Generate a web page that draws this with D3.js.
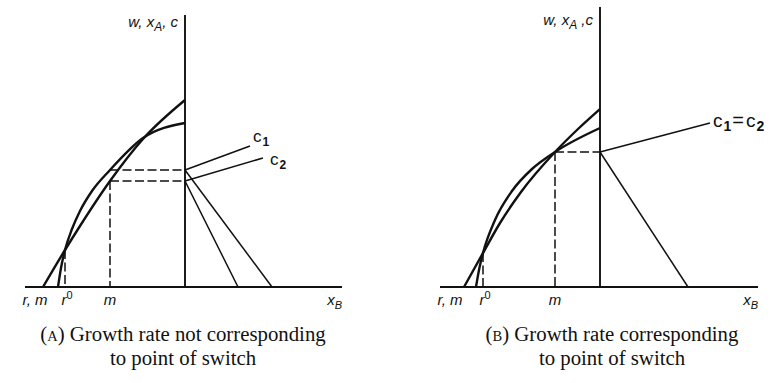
<!DOCTYPE html>
<html>
<head>
<meta charset="utf-8">
<script src="https://cdn.jsdelivr.net/npm/d3@7"></script>
<style>
  body { margin: 0; background: #fff; }
  svg text { fill: #111; }
</style>
</head>
<body>
<svg id="fig" width="780" height="383"></svg>
<script>
// ---- Panel A: growth rate not at the switch point ----
// wage–profit frontiers, points as [r, w]
const frontierA1 = [[1.42, 0], [1.20, 0.37], [1.05, 0.61], [0.75, 1.06], [0.42, 1.48], [0, 1.87]];
const frontierA2 = [[1.27, 0], [1.24, 0.19], [1.20, 0.37], [1.13, 0.58], [1.05, 0.76], [0.93, 0.96],
                    [0.75, 1.17], [0.42, 1.49], [0, 1.64]];
const growthA = 0.75;                 // m
const switchA = [1.20, 0.37];         // r0 and the frontier value there
const consumptionA = [1.17, 1.06];    // c1, c2 at r = m
const xBInterceptA = [0.87, 0.53];    // consumption lines meet the xB axis
const extentA = [1.60, 1.57, 2.72];   // r reach, xB reach, vertical reach

// ---- Panel B: growth rate at the switch point ----
const frontierB1 = [[1.36, 0], [1.17, 0.34], [1.00, 0.64], [0.79, 0.95], [0.45, 1.35], [0.22, 1.58], [0, 1.78]];
const frontierB2 = [[1.24, 0], [1.21, 0.17], [1.17, 0.34], [1.05, 0.67], [0.88, 0.96], [0.68, 1.18],
                    [0.45, 1.35], [0, 1.59]];
const growthB = 0.45;
const switchB = [1.17, 0.34];
const consumptionB = [1.35];
const xBInterceptB = [0.88];
const extentB = [1.60, 1.58, 2.80];

// ---- text ----
const captionsA = ["Growth rate not corresponding", "to point of switch"];
const captionsB = ["Growth rate corresponding", "to point of switch"];

const svg = d3.select("#fig");
const UNIT = 100;        // pixels per unit on both axes
const BASE = 287;        // baseline of both panels
const SANS = "Liberation Sans, Arial, sans-serif";

function drawPanel(cfg) {
  const g = svg.append("g");
  const ax = cfg.axisX;
  const r = d3.scaleLinear().domain([0, 1]).range([ax, ax - UNIT]);
  const xb = d3.scaleLinear().domain([0, 1]).range([ax, ax + UNIT]);
  const y = d3.scaleLinear().domain([0, 1]).range([BASE, BASE - UNIT]);
  const [rMax, xbMax, wMax] = cfg.extent;

  // axes
  g.append("line").attr("x1", r(rMax)).attr("x2", xb(xbMax))
    .attr("y1", y(0)).attr("y2", y(0))
    .attr("stroke", "#111").attr("stroke-width", 1.8);
  g.append("line").attr("x1", ax).attr("x2", ax)
    .attr("y1", y(0)).attr("y2", y(wMax))
    .attr("stroke", "#111").attr("stroke-width", 1.9);

  const dashed = (x1, y1, x2, y2) => g.append("line")
    .attr("x1", x1).attr("y1", y1).attr("x2", x2).attr("y2", y2)
    .attr("stroke", "#111").attr("stroke-width", 1.5)
    .attr("stroke-dasharray", "9,3.5");

  // dashed guides at r0 and at m
  dashed(r(cfg.switchPt[0]), y(cfg.switchPt[1]), r(cfg.switchPt[0]), y(0));
  dashed(r(cfg.growth), y(d3.min(cfg.consumption)), r(cfg.growth), y(0));
  cfg.consumption.forEach(c => dashed(r(cfg.growth), y(c), ax, y(c)));

  // frontiers
  const line = d3.line().x(d => r(d[0])).y(d => y(d[1])).curve(d3.curveMonotoneX);
  [cfg.f1, cfg.f2].forEach(f => g.append("path").attr("d", line(f))
    .attr("fill", "none").attr("stroke", "#111").attr("stroke-width", 2.4)
    .attr("stroke-linejoin", "round"));

  // consumption lines running down to the xB axis
  cfg.consumption.forEach((c, i) => g.append("line")
    .attr("x1", ax).attr("y1", y(c))
    .attr("x2", xb(cfg.xbEnd[i])).attr("y2", y(0))
    .attr("stroke", "#111").attr("stroke-width", 1.5));

  // leaders and their labels
  cfg.leaders.forEach((L, i) => {
    const c = cfg.consumption[i];
    g.append("line").attr("x1", ax).attr("y1", y(c))
      .attr("x2", ax + L.dx).attr("y2", y(c) + L.dy)
      .attr("stroke", "#111").attr("stroke-width", 1.5);
    const t = g.append("text").attr("x", ax + L.dx + L.tx).attr("y", y(c) + L.dy + L.ty)
      .attr("font-family", SANS).attr("font-size", L.size);
    L.parts.forEach(p => {
      const s = t.append("tspan").text(p.t);
      if (p.sub) s.attr("font-size", L.size - 5).attr("dy", 4).attr("font-weight", "bold").attr("dx", 1);
      if (p.eq) s.attr("dy", -4).attr("dx", 1).attr("font-size", L.size + 1);
      if (p.after) s.attr("dx", 2);
    });
  });

  // vertical axis label  w, x_A, c
  const vt = g.append("text").attr("x", ax - 7).attr("y", cfg.labelY)
    .attr("text-anchor", "end")
    .attr("font-family", SANS)
    .attr("font-style", "italic").attr("font-size", 15);
  vt.append("tspan").text(cfg.vHead);
  vt.append("tspan").text("A").attr("font-size", 12).attr("dy", 4);
  vt.append("tspan").text(cfg.vSep + "c").attr("dy", -4);

  // baseline labels
  const lab = (x, anchor) => g.append("text").attr("x", x).attr("y", BASE + 18)
    .attr("text-anchor", anchor)
    .attr("font-family", SANS)
    .attr("font-style", "italic").attr("font-size", 15);
  lab(r(1.50), "middle").text("r, m");
  const r0 = lab(r(cfg.switchPt[0]) + 2, "middle");
  r0.append("tspan").text("r");
  r0.append("tspan").text("0").attr("font-size", 11).attr("dy", -6).attr("font-style", "normal");
  lab(r(cfg.growth), "middle").text("m");
  const xbl = lab(xb(xbMax), "end");
  xbl.append("tspan").text("x");
  xbl.append("tspan").text("B").attr("font-size", 11).attr("dy", 4);

  // caption
  const cap = g.append("g").attr("font-family", "Liberation Serif, Times New Roman, serif")
    .attr("font-size", 20.8).attr("text-anchor", "middle");
  const t1 = cap.append("text").attr("x", cfg.captionX).attr("y", 341);
  t1.append("tspan").text("(");
  t1.append("tspan").text(cfg.tag).attr("font-size", 14.5);
  t1.append("tspan").text(") " + cfg.captions[0]);
  cap.append("text").attr("x", cfg.captionX).attr("y", 365).text(cfg.captions[1]);
}

drawPanel({
  axisX: 185, extent: extentA, f1: frontierA1, f2: frontierA2,
  growth: growthA, switchPt: switchA, consumption: consumptionA, xbEnd: xBInterceptA,
  leaders: [
    { dx: 65, dy: -24, tx: 3, ty: -4, size: 17, parts: [{ t: "c" }, { t: "1", sub: true }] },
    { dx: 78, dy: -23, tx: 7, ty: 7, size: 17, parts: [{ t: "c" }, { t: "2", sub: true }] }
  ],
  labelY: 27, vHead: "w, x", vSep: ", ", tag: "A", captions: captionsA, captionX: 183
});

drawPanel({
  axisX: 600, extent: extentB, f1: frontierB1, f2: frontierB2,
  growth: growthB, switchPt: switchB, consumption: consumptionB, xbEnd: xBInterceptB,
  leaders: [
    { dx: 110, dy: -29, tx: 3, ty: 4, size: 19, parts: [{ t: "c" }, { t: "1", sub: true }, { t: "=", eq: true }, { t: "c", after: true }, { t: "2", sub: true }] }
  ],
  labelY: 25, vHead: "w,  x", vSep: "  ,", tag: "B", captions: captionsB, captionX: 612
});
</script>
</body>
</html>
